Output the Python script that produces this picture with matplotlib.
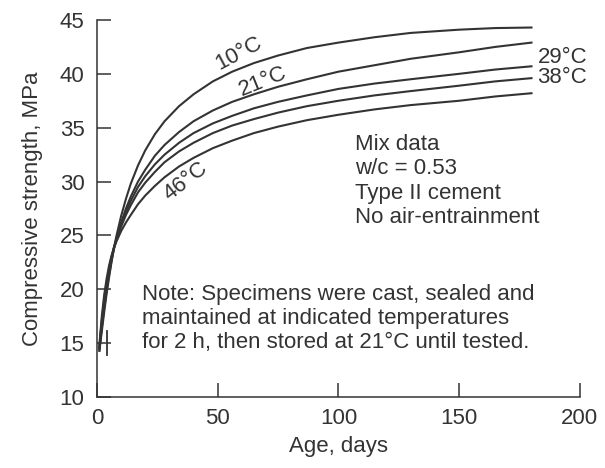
import matplotlib.pyplot as plt

plt.rcParams['font.family'] = ['Liberation Sans', 'DejaVu Sans']

# --- data ---
age_days = [1, 1.5, 2, 3, 4, 5, 6, 7, 8, 10, 12, 14, 17, 20, 24, 28, 34, 40,
            48, 56, 65, 75, 87, 100, 115, 130, 150, 165, 180]

strength_10C = [14.3, 15.2, 16.1, 17.9, 19.6, 21.1, 22.5, 23.8, 24.9, 26.8, 28.4, 29.8, 31.5, 32.9,
                34.4, 35.6, 37.0, 38.1, 39.3, 40.2, 41.0, 41.7, 42.4, 42.9, 43.4, 43.8, 44.1, 44.25, 44.3]
strength_21C = [14.3, 15.4, 16.4, 18.3, 19.9, 21.3, 22.6, 23.7, 24.6, 26.2, 27.5, 28.6, 30.0, 31.1,
                32.4, 33.4, 34.6, 35.6, 36.6, 37.4, 38.1, 38.8, 39.5, 40.2, 40.8, 41.4, 42.0, 42.5, 42.9]
strength_29C = [14.5, 15.7, 16.8, 18.7, 20.3, 21.6, 22.8, 23.8, 24.6, 26.0, 27.2, 28.2, 29.5, 30.5,
                31.6, 32.5, 33.6, 34.5, 35.4, 36.1, 36.8, 37.4, 38.0, 38.6, 39.1, 39.5, 40.0, 40.4, 40.7]
strength_38C = [14.6, 15.9, 17.1, 19.1, 20.6, 21.9, 23.0, 23.9, 24.6, 25.8, 26.9, 27.8, 29.0, 29.9,
                30.9, 31.8, 32.8, 33.6, 34.5, 35.2, 35.8, 36.4, 37.0, 37.5, 38.0, 38.4, 38.9, 39.3, 39.6]
strength_46C = [14.8, 16.2, 17.5, 19.5, 21.0, 22.2, 23.1, 23.8, 24.4, 25.4, 26.2, 26.9, 27.9, 28.7,
                29.6, 30.4, 31.4, 32.2, 33.1, 33.8, 34.5, 35.1, 35.7, 36.2, 36.7, 37.1, 37.5, 37.9, 38.2]

# short vertical bar near the start
bar_day = [4, 4]
bar_range = [13.9, 16.1]

x_ticks = [0, 50, 100, 150, 200]
y_ticks = [10, 15, 20, 25, 30, 35, 40, 45]

ink = '#333333'
fs = 16

fig = plt.figure(figsize=(6.05, 4.68), dpi=100)
ax = fig.add_axes([0.1603, 0.1517, 0.798, 0.8056])

for s in [strength_10C, strength_21C, strength_29C, strength_38C, strength_46C]:
    ax.plot(age_days, s, color=ink, lw=1.5, solid_joinstyle='round')
ax.plot(bar_day, bar_range, color=ink, lw=1.3)

ax.set_xlim(0, 200)
ax.set_ylim(10, 45)
ax.set_xticks(x_ticks)
ax.set_yticks(y_ticks)

for side in ['top', 'right']:
    ax.spines[side].set_visible(False)
for side in ['left', 'bottom']:
    ax.spines[side].set_color(ink)
    ax.spines[side].set_linewidth(1.1)
ax.tick_params(direction='in', length=10, width=1.1, color=ink,
               labelsize=fs, labelcolor=ink)
ax.tick_params(axis='y', pad=9)
ax.tick_params(axis='x', pad=8)

ax.set_xlabel('Age, days', fontsize=fs, color=ink, labelpad=5)
ax.set_ylabel('Compressive strength, MPa', fontsize=fs, color=ink, labelpad=12)

# curve labels
lab = dict(fontsize=fs, color=ink, ha='center', va='center')
ax.text(58.6, 41.9, '10°C', rotation=28, **lab)
ax.text(68.9, 39.3, '21°C', rotation=22, **lab)
ax.text(36.6, 30.0, '46°C', rotation=38, **lab)
ax.text(182.5, 41.5, '29°C', fontsize=fs, color=ink, ha='left', va='center')
ax.text(182.5, 39.7, '38°C', fontsize=fs, color=ink, ha='left', va='center')

ax.text(107, 34.4, 'Mix data\nw/c = 0.53\nType II cement\nNo air-entrainment',
        fontsize=fs, color=ink, ha='left', va='top', linespacing=1.2)
ax.text(18.7, 20.5, 'Note: Specimens were cast, sealed and\n'
        'maintained at indicated temperatures\n'
        'for 2 h, then stored at 21°C until tested.',
        fontsize=fs, color=ink, ha='left', va='top', linespacing=1.2)

fig.savefig('out.png', dpi=100)
